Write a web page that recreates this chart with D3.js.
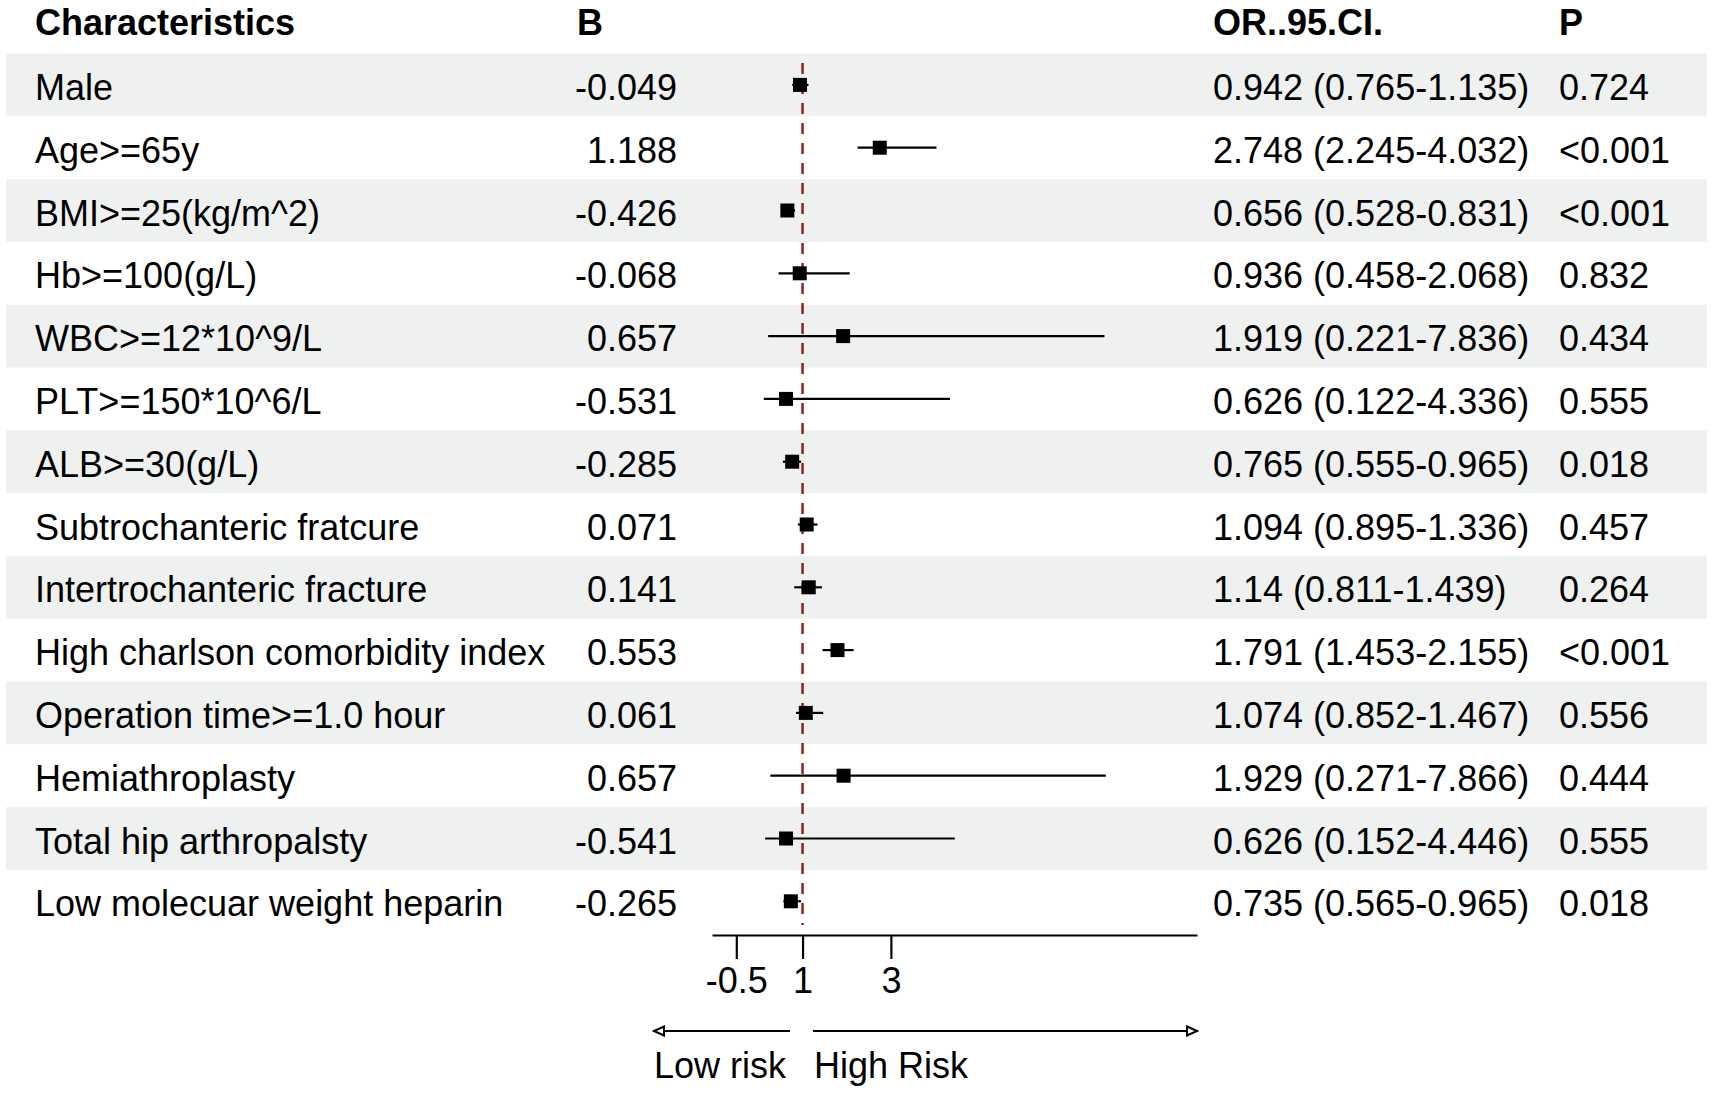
<!DOCTYPE html>
<html lang="en">
<head>
  <meta charset="UTF-8">
  <title>forest plot</title>
  <script src="https://cdn.jsdelivr.net/npm/d3@7"></script>
  <style>
    body { margin: 0; background: #fff; }
    text { font-family: "Liberation Sans", Arial, sans-serif; fill: #000; }
  </style>
</head>
<body>
<svg></svg>
<script>
  const width = 1713, height = 1094

  // table data
  const labels = ['Male', 'Age>=65y', 'BMI>=25(kg/m^2)', 'Hb>=100(g/L)', 'WBC>=12*10^9/L',
    'PLT>=150*10^6/L', 'ALB>=30(g/L)', 'Subtrochanteric fratcure', 'Intertrochanteric fracture',
    'High charlson comorbidity index', 'Operation time>=1.0 hour', 'Hemiathroplasty',
    'Total hip arthropalsty', 'Low molecuar weight heparin']
  const bValues = ['-0.049', '1.188', '-0.426', '-0.068', '0.657', '-0.531', '-0.285',
    '0.071', '0.141', '0.553', '0.061', '0.657', '-0.541', '-0.265']
  const orEst = [0.942, 2.748, 0.656, 0.936, 1.919, 0.626, 0.765, 1.094, 1.14, 1.791, 1.074, 1.929, 0.626, 0.735]
  const ciLow = [0.765, 2.245, 0.528, 0.458, 0.221, 0.122, 0.555, 0.895, 0.811, 1.453, 0.852, 0.271, 0.152, 0.565]
  const ciHigh = [1.135, 4.032, 0.831, 2.068, 7.836, 4.336, 0.965, 1.336, 1.439, 2.155, 1.467, 7.866, 4.446, 0.965]
  const orText = ['0.942 (0.765-1.135)', '2.748 (2.245-4.032)', '0.656 (0.528-0.831)', '0.936 (0.458-2.068)',
    '1.919 (0.221-7.836)', '0.626 (0.122-4.336)', '0.765 (0.555-0.965)', '1.094 (0.895-1.336)',
    '1.14 (0.811-1.439)', '1.791 (1.453-2.155)', '1.074 (0.852-1.467)', '1.929 (0.271-7.866)',
    '0.626 (0.152-4.446)', '0.735 (0.565-0.965)']
  const pText = ['0.724', '<0.001', '<0.001', '0.832', '0.434', '0.555', '0.018',
    '0.457', '0.264', '<0.001', '0.556', '0.444', '0.555', '0.018']
  const headers = ['Characteristics', 'B', 'OR..95.CI.', 'P']
  const tickValues = [-0.5, 1, 3]
  const xDomain = [-1.05, 9.93]
  const refValue = 1

  const fontSize = 36
  const colX = {label: 35, b: 677, bHead: 577, or: 1213, p: 1559}

  const svg = d3.select('svg')
      .attr('width', width)
      .attr('height', height)
      .attr('viewBox', [0, 0, width, height])

  const x = d3.scaleLinear()
      .domain(xDomain)
      .range([712, 1197])

  const y = d3.scaleBand()
      .domain(d3.range(labels.length))
      .range([53.5, 53.5 + labels.length * 62.8])
  const yc = i => y(i) + y.bandwidth() / 2

  // zebra stripes
  svg.append('g')
    .selectAll('rect')
    .data(d3.range(labels.length).filter(i => i % 2 === 0))
    .join('rect')
      .attr('x', 6)
      .attr('width', width - 12)
      .attr('y', i => y(i))
      .attr('height', y.bandwidth())
      .attr('fill', '#eef1f0')

  // header
  const head = svg.append('g')
      .attr('font-size', fontSize)
      .attr('font-weight', 'bold')
  head.append('text').attr('x', colX.label).attr('y', 35).text(headers[0])
  head.append('text').attr('x', colX.bHead).attr('y', 35).text(headers[1])
  head.append('text').attr('x', colX.or).attr('y', 35).text(headers[2])
  head.append('text').attr('x', colX.p).attr('y', 35).text(headers[3])

  // table columns
  const rows = svg.append('g')
      .attr('font-size', fontSize)
    .selectAll('g')
    .data(d3.range(labels.length))
    .join('g')
      .attr('transform', i => `translate(0,${yc(i)})`)

  rows.append('text').attr('x', colX.label).attr('dy', '0.42em').text(i => labels[i])
  rows.append('text').attr('x', colX.b).attr('dy', '0.42em').attr('text-anchor', 'end').text(i => bValues[i])
  rows.append('text').attr('x', colX.or).attr('dy', '0.42em').text(i => orText[i])
  rows.append('text').attr('x', colX.p).attr('dy', '0.42em').text(i => pText[i])

  // reference line
  svg.append('line')
      .attr('x1', x(refValue)).attr('x2', x(refValue))
      .attr('y1', 63).attr('y2', 925)
      .attr('stroke', '#8b1a1a')
      .attr('stroke-width', 2.4)
      .attr('stroke-dasharray', '11,9')

  // CI lines and boxes
  const marks = svg.append('g')
    .selectAll('g')
    .data(d3.range(labels.length))
    .join('g')

  marks.append('line')
      .attr('x1', i => x(ciLow[i]))
      .attr('x2', i => x(ciHigh[i]))
      .attr('y1', i => yc(i))
      .attr('y2', i => yc(i))
      .attr('stroke', '#000')
      .attr('stroke-width', 2.2)

  const box = 14
  marks.append('rect')
      .attr('x', i => x(orEst[i]) - box / 2)
      .attr('y', i => yc(i) - box / 2)
      .attr('width', box)
      .attr('height', box)
      .attr('fill', '#000')

  // x axis
  const axis = svg.append('g')
      .attr('transform', 'translate(0,935)')
      .call(d3.axisBottom(x)
        .tickValues(tickValues)
        .tickSize(24)
        .tickSizeOuter(0)
        .tickPadding(8)
        .tickFormat(d => String(d)))
  axis.select('.domain').attr('stroke-width', 2.2)
  axis.selectAll('.tick line').attr('stroke-width', 2.2)
  axis.selectAll('.tick text')
      .attr('font-size', fontSize)
      .attr('font-family', '"Liberation Sans", Arial, sans-serif')

  // risk arrows
  svg.append('defs').selectAll('marker')
    .data(['start', 'end'])
    .join('marker')
      .attr('id', d => 'arr-' + d)
      .attr('viewBox', '0 0 14 12')
      .attr('refX', 12)
      .attr('refY', 6)
      .attr('markerWidth', 14)
      .attr('markerHeight', 12)
      .attr('markerUnits', 'userSpaceOnUse')
      .attr('orient', 'auto-start-reverse')
    .append('path')
      .attr('d', 'M2,1.5 L12,6 L2,10.5 Z')
      .attr('fill', '#fff')
      .attr('stroke', '#000')
      .attr('stroke-width', 2)

  const arrowY = 1031
  svg.append('line')
      .attr('x1', 654).attr('x2', 790)
      .attr('y1', arrowY).attr('y2', arrowY)
      .attr('stroke', '#000').attr('stroke-width', 2.2)
      .attr('marker-start', 'url(#arr-start)')
  svg.append('line')
      .attr('x1', 813).attr('x2', x(xDomain[1]))
      .attr('y1', arrowY).attr('y2', arrowY)
      .attr('stroke', '#000').attr('stroke-width', 2.2)
      .attr('marker-end', 'url(#arr-end)')

  svg.append('text').attr('x', 654).attr('y', 1078).attr('font-size', fontSize).text('Low risk')
  svg.append('text').attr('x', 814).attr('y', 1078).attr('font-size', fontSize).text('High Risk')
</script>
</body>
</html>
